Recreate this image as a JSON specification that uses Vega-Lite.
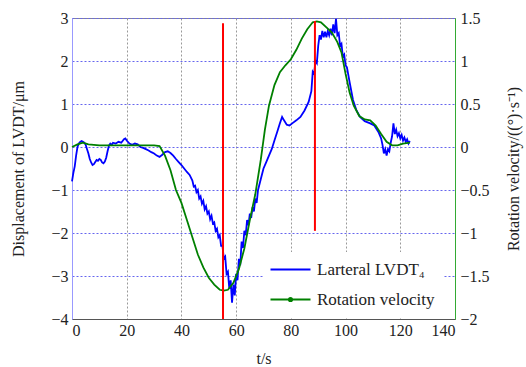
{
  "$schema": "https://vega.github.io/schema/vega-lite/v6.json",
  "width": 383,
  "height": 301,
  "autosize": {"type": "none"},
  "padding": {"left": 72, "top": 18, "right": 71, "bottom": 48},
  "background": "white",
  "config": {
    "font": "Liberation Serif",
    "view": {"stroke": "#888888", "strokeWidth": 1},
    "axis": {"labelFont": "Liberation Serif", "titleFont": "Liberation Serif", "labelFontSize": 16, "titleFontSize": 16, "titleFontWeight": "normal", "labelColor": "#222", "titleColor": "#222", "ticks": false},
    "legend": {"labelFont": "Liberation Serif", "labelFontSize": 17, "labelColor": "#222"}
  },
  "datasets": {
    "blue": [
      {"t":0,"v":-0.8},{"t":0.5,"v":-0.6},{"t":1,"v":-0.45},{"t":1.5,"v":-0.2},{"t":2,"v":0.0},{"t":2.5,"v":0.08},{"t":3,"v":0.12},{"t":3.5,"v":0.14},{"t":4,"v":0.12},{"t":4.5,"v":0.1},{"t":5,"v":0.05},{"t":5.5,"v":-0.05},{"t":6,"v":-0.15},{"t":6.5,"v":-0.28},{"t":7,"v":-0.36},{"t":7.5,"v":-0.42},{"t":8,"v":-0.4},{"t":8.5,"v":-0.35},{"t":9,"v":-0.3},{"t":9.5,"v":-0.32},{"t":10,"v":-0.28},{"t":10.5,"v":-0.3},{"t":11,"v":-0.36},{"t":11.5,"v":-0.38},{"t":12,"v":-0.34},{"t":12.5,"v":-0.25},{"t":13,"v":-0.1},{"t":13.5,"v":0.03},{"t":14,"v":0.08},{"t":14.5,"v":0.05},{"t":15,"v":0.1},{"t":16,"v":0.08},{"t":17,"v":0.12},{"t":18,"v":0.1},{"t":19,"v":0.18},{"t":19.5,"v":0.2},{"t":20,"v":0.15},{"t":21,"v":0.08},{"t":22,"v":0.05},{"t":23,"v":0.08},{"t":24,"v":0.06},{"t":25,"v":0.0},{"t":26,"v":-0.02},{"t":27,"v":-0.05},{"t":28,"v":-0.08},{"t":29,"v":-0.12},{"t":30,"v":-0.15},{"t":31,"v":-0.2},{"t":32,"v":-0.23},{"t":33,"v":-0.18},{"t":34,"v":-0.12},{"t":35,"v":-0.1},{"t":36,"v":-0.14},{"t":37,"v":-0.2},{"t":38,"v":-0.28},{"t":39,"v":-0.35},{"t":40,"v":-0.42},{"t":41,"v":-0.5},{"t":42,"v":-0.58},{"t":43,"v":-0.65},
      {"t":44,"v":-0.78},{"t":44.5,"v":-0.92},{"t":45,"v":-0.9},{"t":45.5,"v":-1.05},{"t":46,"v":-1.0},{"t":46.5,"v":-1.2},{"t":47,"v":-1.15},{"t":47.5,"v":-1.32},{"t":48,"v":-1.25},{"t":48.5,"v":-1.45},{"t":49,"v":-1.38},{"t":49.5,"v":-1.55},{"t":50,"v":-1.5},{"t":50.5,"v":-1.68},{"t":51,"v":-1.6},{"t":51.5,"v":-1.78},{"t":52,"v":-1.75},{"t":52.5,"v":-1.95},{"t":53,"v":-1.9},{"t":53.5,"v":-2.1},{"t":54,"v":-2.05},{"t":54.5,"v":-2.3},{"t":55,"v":-2.3},{"t":55.5,"v":-2.6},{"t":56,"v":-2.55},{"t":56.5,"v":-2.95},{"t":57,"v":-2.9},{"t":57.5,"v":-3.3},{"t":58,"v":-3.1},{"t":58.5,"v":-3.62},{"t":59,"v":-3.2},{"t":59.5,"v":-3.45},{"t":60,"v":-2.95},{"t":60.5,"v":-3.1},{"t":61,"v":-2.6},{"t":61.5,"v":-2.75},{"t":62,"v":-2.2},{"t":62.5,"v":-2.35},{"t":63,"v":-1.95},{"t":63.5,"v":-2.05},{"t":64,"v":-1.7},{"t":64.5,"v":-1.82},{"t":65,"v":-1.55},{"t":65.5,"v":-1.65},{"t":66,"v":-1.4},{"t":66.5,"v":-1.5},{"t":67,"v":-1.2},{"t":67.5,"v":-1.3},{"t":68,"v":-1.0},
      {"t":69,"v":-0.75},{"t":70,"v":-0.5},{"t":71,"v":-0.35},{"t":72,"v":-0.2},{"t":73,"v":-0.05},{"t":74,"v":0.15},{"t":75,"v":0.35},{"t":76,"v":0.55},{"t":76.8,"v":0.7},{"t":77.5,"v":0.62},{"t":78.5,"v":0.52},{"t":79.5,"v":0.5},{"t":80.5,"v":0.55},{"t":82,"v":0.62},{"t":83.5,"v":0.7},{"t":85,"v":0.85},{"t":86.5,"v":1.05},{"t":87.5,"v":1.3},
      {"t":88,"v":1.75},{"t":88.5,"v":1.7},{"t":89,"v":2.0},{"t":89.5,"v":1.95},{"t":90,"v":2.35},{"t":90.5,"v":2.6},{"t":91,"v":2.5},{"t":91.5,"v":2.7},{"t":92,"v":2.55},{"t":92.5,"v":2.68},{"t":93,"v":2.55},{"t":93.5,"v":2.7},{"t":94,"v":2.6},{"t":94.5,"v":2.75},{"t":95,"v":2.6},{"t":95.5,"v":2.85},{"t":96,"v":2.65},{"t":96.5,"v":2.98},{"t":97,"v":2.6},{"t":97.5,"v":2.65},{"t":98,"v":2.35},{"t":98.5,"v":2.4},{"t":99,"v":2.1},{"t":99.5,"v":2.15},{"t":100,"v":1.9},{"t":100.5,"v":1.85},{"t":101.5,"v":1.5},{"t":102.7,"v":1.1},{"t":104,"v":0.85},{"t":105.3,"v":0.7},{"t":107,"v":0.6},{"t":109,"v":0.55},{"t":110.5,"v":0.5},{"t":112,"v":0.35},
      {"t":113,"v":0.2},{"t":113.5,"v":0.05},{"t":114,"v":-0.15},{"t":114.5,"v":-0.05},{"t":115,"v":-0.2},{"t":115.5,"v":-0.05},{"t":116,"v":-0.1},{"t":116.5,"v":0.1},{"t":117,"v":0.25},{"t":117.5,"v":0.55},{"t":118,"v":0.3},{"t":118.5,"v":0.4},{"t":119,"v":0.25},{"t":119.5,"v":0.32},{"t":120,"v":0.2},{"t":120.5,"v":0.28},{"t":121,"v":0.15},{"t":121.5,"v":0.22},{"t":122,"v":0.12},{"t":122.5,"v":0.18},{"t":123,"v":0.08},{"t":123.5,"v":0.14}
    ],
    "green": [
      {"t":0,"r":0},{"t":2,"r":0.03},{"t":4,"r":0.05},{"t":6,"r":0.03},{"t":10,"r":0.02},{"t":20,"r":0.02},{"t":30,"r":0.02},{"t":32,"r":0.01},{"t":34,"r":-0.1},{"t":36,"r":-0.27},{"t":38,"r":-0.5},{"t":40,"r":-0.65},{"t":42,"r":-0.85},{"t":44,"r":-1.05},{"t":46,"r":-1.25},{"t":48,"r":-1.4},{"t":50,"r":-1.52},{"t":52,"r":-1.6},{"t":54,"r":-1.66},{"t":55.5,"r":-1.67},{"t":57,"r":-1.66},{"t":59,"r":-1.58},{"t":61,"r":-1.42},{"t":63,"r":-1.18},{"t":65,"r":-0.85},{"t":67,"r":-0.55},{"t":69,"r":-0.15},{"t":70.5,"r":0.2},{"t":72,"r":0.48},{"t":74,"r":0.72},{"t":76,"r":0.87},{"t":78,"r":0.95},{"t":80,"r":1.02},{"t":82,"r":1.13},{"t":84,"r":1.26},{"t":86,"r":1.37},{"t":88,"r":1.45},{"t":89.5,"r":1.46},{"t":91,"r":1.45},{"t":93,"r":1.39},{"t":95,"r":1.33},{"t":97,"r":1.22},{"t":98.5,"r":1.1},{"t":100,"r":0.85},{"t":101.5,"r":0.63},{"t":103,"r":0.48},{"t":105,"r":0.36},{"t":107,"r":0.32},{"t":109,"r":0.31},{"t":111,"r":0.25},{"t":113,"r":0.15},{"t":115,"r":0.06},{"t":117,"r":0.02},{"t":119,"r":0.02},{"t":121,"r":0.04},{"t":123.5,"r":0.05}
    ],
    "red": [
      {"t":55.2,"y1":2.88,"y2":-4},
      {"t":88.8,"y1":2.93,"y2":-1.95}
    ]
  },
  "layer": [
    {
      "data": {"name": "blue"},
      "transform": [{"calculate": "'Larteral LVDT₄'", "as": "series"}],
      "mark": {"type": "line", "strokeWidth": 1.8, "interpolate": "linear"},
      "encoding": {
        "x": {"field": "t", "type": "quantitative", "scale": {"domain": [0, 140], "nice": false},
          "axis": {"values": [0,20,40,60,80,100,120,140], "title": "t/s", "labelFont": "Liberation Serif", "titleFont": "Liberation Serif", "titlePadding": 12, "labelPadding": 3, "domainColor": "#555", "grid": true, "gridColor": "#999999", "gridDash": [2, 2], "gridWidth": 1}},
        "y": {"field": "v", "type": "quantitative", "scale": {"domain": [-4, 3], "nice": false},
          "axis": {"orient": "left", "values": [-4,-3,-2,-1,0,1,2,3], "title": "Displacement of LVDT/μm", "labelFont": "Liberation Serif", "titleFont": "Liberation Serif", "titlePadding": 24, "labelPadding": 4, "domainColor": "#9999ff", "grid": true, "gridColor": "#6666ee", "gridDash": [2, 2], "gridWidth": 1}},
        "color": {"field": "series", "type": "nominal",
          "scale": {"domain": ["Larteral LVDT₄", "Rotation velocity"], "range": ["#0000ff", "#008000"]},
          "legend": {"orient": "none", "legendX": 192, "legendY": 234, "title": null, "fillColor": "white", "padding": 9, "symbolType": "M-5,0H5", "symbolSize": 64, "symbolStrokeWidth": 2, "rowPadding": 12, "labelOffset": 18, "symbolOffset": 9, "labelFontSize": 17, "labelFont": "Liberation Serif",
            "encode": {"symbols": {"update": {
              "shape": {"signal": "datum.label == 'Rotation velocity' ? 'M-5,0H5M-0.4,0A0.4,0.4 0 1,0 0.4,0A0.4,0.4 0 1,0 -0.4,0' : 'M-5,0H5'"},
              "fill": {"signal": "datum.label == 'Rotation velocity' ? '#008000' : 'transparent'"}
            }}}}}
      }
    },
    {
      "data": {"name": "green"},
      "transform": [{"calculate": "'Rotation velocity'", "as": "series"}],
      "mark": {"type": "line", "strokeWidth": 1.8},
      "encoding": {
        "x": {"field": "t", "type": "quantitative"},
        "y": {"field": "r", "type": "quantitative", "scale": {"domain": [-2, 1.5], "nice": false},
          "axis": {"orient": "right", "values": [-2,-1.5,-1,-0.5,0,0.5,1,1.5], "format": "~g", "labelFont": "Liberation Serif", "titleFont": "Liberation Serif", "title": "Rotation velocity/((°)·s⁻¹)", "titleAngle": -90, "titlePadding": 32, "labelPadding": 5, "domainColor": "#33aa33", "grid": false}},
        "color": {"field": "series", "type": "nominal"}
      }
    },
    {
      "data": {"name": "red"},
      "mark": {"type": "rule", "color": "#ff0000", "strokeWidth": 2},
      "encoding": {
        "x": {"field": "t", "type": "quantitative"},
        "y": {"field": "y1", "type": "quantitative", "scale": {"domain": [-4, 3], "nice": false}, "axis": null},
        "y2": {"field": "y2"}
      }
    }
  ],
  "resolve": {"scale": {"y": "independent"}}
}
